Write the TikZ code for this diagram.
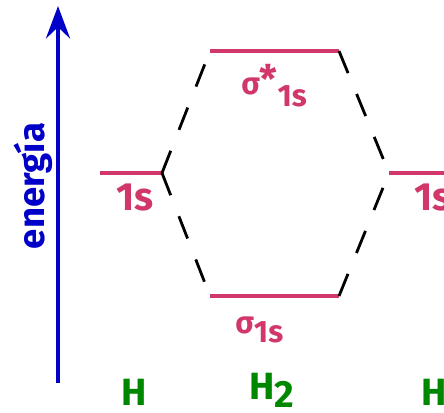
\documentclass[tikz,border=0pt]{standalone}
\usepackage{fontspec}
\setmainfont{Fira Sans}
\usepackage{xcolor}
\usetikzlibrary{arrows.meta}
\definecolor{orbpink}{RGB}{210,55,105}
\definecolor{axisblue}{RGB}{0,0,200}
\definecolor{atomgreen}{RGB}{0,135,0}

\begin{document}
\begin{tikzpicture}[
  x=0.025cm, y=-0.025cm,
  level/.style={orbpink, line width=3.5pt},
  link/.style={black, line width=2pt, dash pattern=on 17pt off 16pt},
  orb/.style={text=orbpink, font=\fontsize{22}{24}\selectfont\bfseries, inner sep=0pt, anchor=base west},
  atom/.style={text=atomgreen, font=\fontsize{27}{29}\selectfont\bfseries, inner sep=0pt, anchor=base west},
  axis/.style={axisblue, line width=3.5pt, -{Stealth[length=23pt, width=17pt, inset=8pt]}}
]
\useasboundingbox (0,0) rectangle (444,412);
\clip (0,0) rectangle (444,412);

% energy axis
\coordinate (base) at (58,383);
\coordinate (top) at (58,6);
\draw[axis] (base) -- (top);
\node[rotate=90, text=axisblue, font=\fontsize{26}{28}\selectfont\bfseries, inner sep=0pt]
  (energy) at (33,186) {energía};

% atomic and molecular levels
\coordinate (aL) at (100,173);
\coordinate (aR) at (162,173);
\coordinate (bL) at (389,173);
\coordinate (bR) at (460,173);
\coordinate (sstarL) at (210,51);
\coordinate (sstarR) at (339,51);
\coordinate (sL) at (210,296);
\coordinate (sR) at (339,296);
\draw[level] (aL) -- (aR);
\draw[level] (bL) -- (bR);
\draw[level] (sstarL) -- (sstarR);
\draw[level] (sL) -- (sR);

% correlation lines
\draw[link] (aR) -- (sstarL);
\draw[link] (aR) -- (sL);
\draw[link] (sstarR) -- (bL);
\draw[link] (sR) -- (bL);

% level labels
\node[orb, font=\fontsize{28}{30}\selectfont\bfseries] (la) at (116,210) {1s};
\node[orb, font=\fontsize{28}{30}\selectfont\bfseries] (lb) at (414,210) {1s};
\node[orb] (lstar) at (241,95) {σ\raisebox{1pt}{\fontsize{28}{30}\selectfont*}\raisebox{-8.5pt}{1s}};
\node[orb] (lsig) at (235,333) {σ\raisebox{-7pt}{1s}};

% atoms and molecule
\node[atom] (hA) at (121,405) {H};
\node[atom] (hmol) at (249,399) {H\raisebox{-6pt}{2}};
\node[atom] (hB) at (421,405) {H};
\end{tikzpicture}
\end{document}
